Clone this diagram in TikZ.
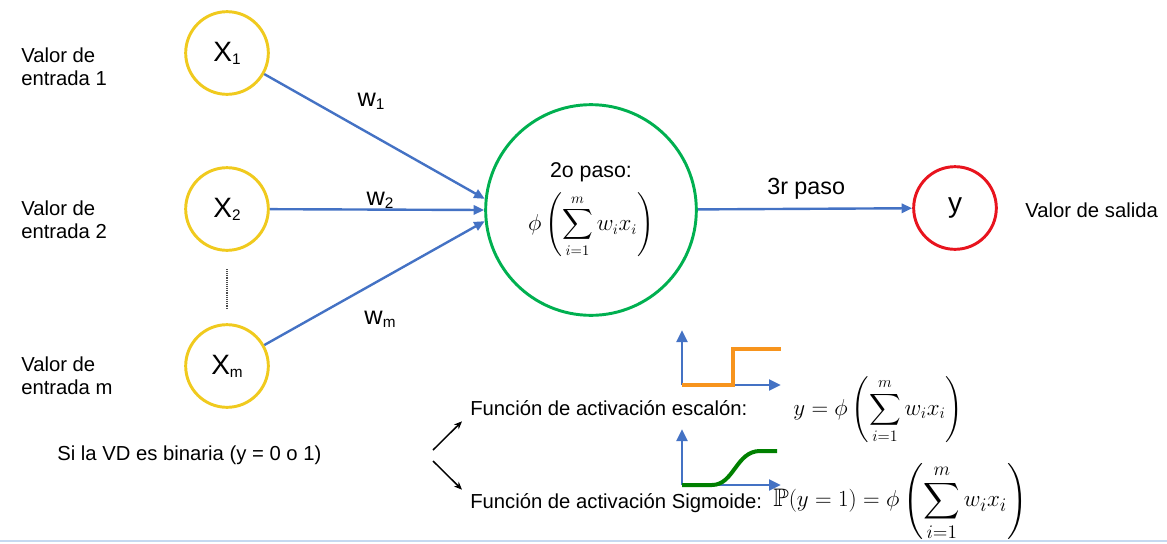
\documentclass[tikz,border=0pt]{standalone}
\usepackage{amsmath,amssymb}
\usepackage{fontspec}
\setmainfont{Liberation Sans}
\usetikzlibrary{arrows.meta,positioning}
\definecolor{wire}{HTML}{4472C4}
\definecolor{inyel}{HTML}{F0CA1E}
\definecolor{sumgrn}{HTML}{00B050}
\definecolor{outred}{HTML}{E8141E}
\definecolor{steporg}{HTML}{F7941D}
\definecolor{sigdk}{HTML}{008000}
\definecolor{rulebl}{HTML}{C5D9F1}
\newcommand{\lowsub}[1]{\raisebox{-0.2ex}{\fontsize{11.5}{11.5}\selectfont #1}}
\newcommand{\wsum}{\phi\left(\sum_{i=1}^{m} w_i x_i\right)}
\tikzset{
  inp/.style={circle,draw=inyel,line width=2.2pt,fill=white,minimum size=62pt,inner sep=0pt,font=\fontsize{21}{21}\selectfont},
  sumc/.style={circle,draw=sumgrn,line width=2.2pt,fill=white,minimum size=158pt,inner sep=0pt,align=center,font=\fontsize{16}{19}\selectfont},
  outc/.style={circle,draw=outred,line width=2.2pt,fill=white,minimum size=62pt,inner sep=0pt,font=\fontsize{21}{21}\selectfont},
  lbl/.style={font=\fontsize{15.2}{17}\selectfont,align=left,anchor=west,inner sep=0pt},
  wlbl/.style={font=\fontsize{19}{19}\selectfont,inner sep=0pt},
  eqn/.style={font=\fontsize{16.5}{20}\selectfont,inner sep=0pt},
  wire/.style={draw=wire,line width=1.8pt,-{Triangle[length=8pt,width=7pt]}},
  axis/.style={draw=wire,line width=2.2pt,-{Triangle[length=9pt,width=8pt]}},
  blk/.style={draw=black,line width=1.1pt,-{Stealth[length=6pt,width=5pt]}},
  vdots/.style={draw=black!70,line width=1.2pt,dash pattern=on 0.7pt off 0.7pt},
}
\begin{document}
\begin{tikzpicture}[x=0.75pt,y=-0.75pt]
\useasboundingbox (0,0) rectangle (1167,543);
\node[inp] (x1) at (227,53) {\raisebox{-3pt}{X\lowsub{1}}};
\node[inp] (x2) at (227,209) {\raisebox{-3pt}{X\lowsub{2}}};
\node[inp] (xm) at (227,366) {\raisebox{-3pt}{X\lowsub{m}}};
\node[lbl] (in1) at (21,67) {Valor de\\entrada 1};
\node[lbl] (in2) at (21,220) {Valor de\\entrada 2};
\node[lbl] (inm) at (21,376) {Valor de\\entrada m};
\node[sumc] (sum) at (591,210) {2o paso:\\[7pt] $\displaystyle\wsum$};
\node[outc] (y) at (955,208) {\raisebox{-5pt}{y}};
\node[lbl] (out) at (1025,210) {Valor de salida};
\draw[vdots] ([yshift=-13pt]x2.south) -- ([yshift=10.5pt]xm.north);
\draw[wire] (x1) -- (sum.174);\draw[wire] (x2) -- (sum.180);\draw[wire] (xm) -- (sum.186);
\node[wlbl] (w1) at (371,101) {w\lowsub{1}};
\node[wlbl] (w2) at (380,200) {w\lowsub{2}};
\node[wlbl] (wm) at (380,319) {w\lowsub{m}};
\draw[wire] (sum) -- (y);
\node[lbl,font=\fontsize{17.5}{20}\selectfont] (paso3) at (767,189) {3r paso};
\draw[axis] (682,385) -- (781,385);\draw[axis] (682,385) -- (682,330);
\draw[steporg,line width=3pt] (682,385) -- (733,385) -- (733,349) -- (781,349);
\draw[axis] (682,485) -- (781,485);\draw[axis] (682,485) -- (682,429);
\draw[sigdk,line width=3pt] (682,485) -- (712,485) .. controls (734,485) and (736,451) .. (760,451) -- (777,451);
\node[lbl] (esc) at (470,408) {Función de activación escalón:};
\node[lbl] (sig) at (470,503) {Función de activación Sigmoide:};
\node[eqn,anchor=west] (eqesc) at (793,410) {$\displaystyle y=\wsum$};
\node[eqn,anchor=west,font=\fontsize{19}{22}\selectfont] (eqsig) at (773,502) {$\displaystyle \mathbb{P}(y=1)=\wsum$};
\node[lbl] (bin) at (57,455) {Si la VD es binaria (y = 0 o 1)};
\coordinate (forkup) at (433,450);\coordinate (forkdn) at (433,461);
\draw[blk] (forkup) -- ([xshift=-6pt,yshift=-10pt]esc.west);
\draw[blk] (forkdn) -- ([xshift=-6pt,yshift=10pt]sig.west);
\draw[rulebl,line width=1.5pt] (0,541) -- (1167,541);
\end{tikzpicture}
\end{document}
